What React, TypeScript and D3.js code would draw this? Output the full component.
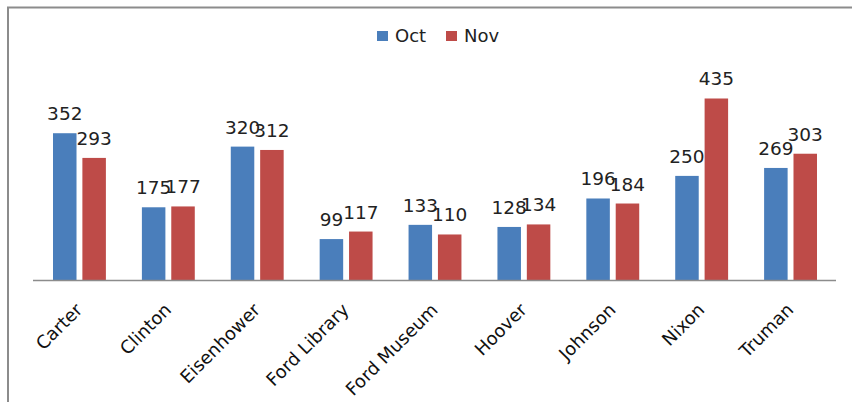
import React from "react";
import * as d3 from "d3";

const categories = ["Carter", "Clinton", "Eisenhower", "Ford Library", "Ford Museum", "Hoover", "Johnson", "Nixon", "Truman"];
const seriesNames = ["Oct", "Nov"];
const octValues = [352, 175, 320, 99, 133, 128, 196, 250, 269];
const novValues = [293, 177, 312, 117, 110, 134, 184, 435, 303];
const colors = ["#4a7ebb", "#be4b48"];

const W = 852;
const H = 402;
const FONT = "'DejaVu Sans', sans-serif";

export default function App() {
  const series = [octValues, novValues];
  const x0 = d3.scaleBand<string>().domain(categories).range([35, 835]).paddingInner(0.405).paddingOuter(0.2025);
  const x1 = d3.scaleBand<string>().domain(seriesNames).range([0, x0.bandwidth()]).paddingInner(0.2);
  const y = d3.scaleLinear().domain([0, 500]).range([280.5, 71.3]);

  return (
    <svg width={W} height={H} style={{ position: "absolute", left: 0, top: 0, background: "#fff" }}>
      <rect x={8} y={7.5} width={W + 20} height={H + 20} fill="#fff" stroke="#8c8c8c" strokeWidth={2} />
      {/* legend */}
      {seriesNames.map((s, i) => {
        const lx = i === 0 ? 377 : 446;
        return (
          <g key={s}>
            <rect x={lx} y={31} width={11} height={10} fill={colors[i]} />
            <text x={lx + 18} y={42} fontFamily={FONT} fontSize={18} fill="#222">{s}</text>
          </g>
        );
      })}
      {/* bars */}
      {categories.map((c, ci) => (
        <g key={c} transform={`translate(${x0(c)},0)`}>
          {seriesNames.map((s, si) => {
            const v = series[si][ci];
            const bx = x1(s)!;
            const bw = x1.bandwidth();
            return (
              <g key={s}>
                <rect x={bx} y={y(v)} width={bw} height={y(0) - y(v)} fill={colors[si]} />
                <text x={bx + bw / 2} y={y(v) - 13} textAnchor="middle" fontFamily={FONT} fontSize={18.5} fill="#222">{v}</text>
              </g>
            );
          })}
        </g>
      ))}
      {/* axis */}
      <line x1={33} x2={836} y1={280.5} y2={280.5} stroke="#8c8c8c" strokeWidth={1.5} />
      {categories.map((c) => {
        const cx = x0(c)! + x0.bandwidth() / 2;
        return (
          <text key={c} transform={`translate(${cx + 4},311) rotate(-45)`} textAnchor="end" fontFamily={FONT} fontSize={18} fill="#111">{c}</text>
        );
      })}
    </svg>
  );
}
